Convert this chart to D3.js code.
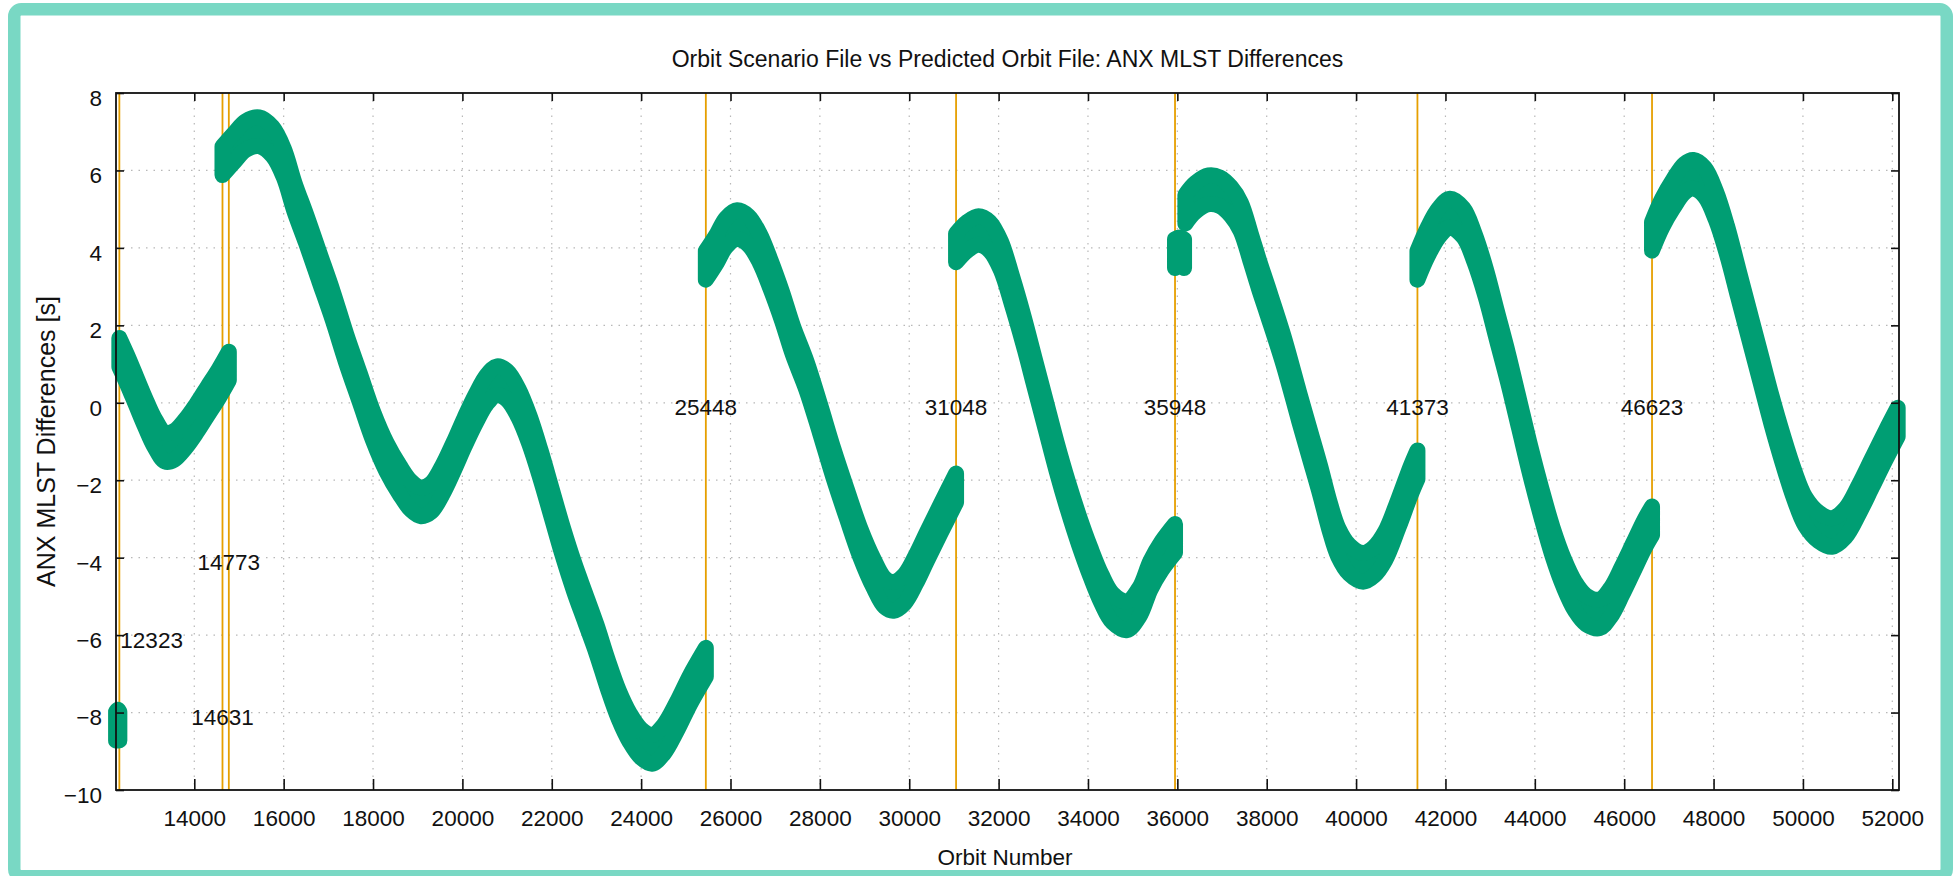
<!DOCTYPE html>
<html lang="en">
<head>
<meta charset="UTF-8">
<title>ANX MLST Differences</title>
<script src="https://cdn.jsdelivr.net/npm/d3@7"></script>
<style>
  body { margin: 0; background: #fff; }
  svg text { font-family: "Liberation Sans", Arial, Helvetica, sans-serif; fill: #111; }
</style>
</head>
<body>
<div id="chart"></div>
<script>

// orbits where a new orbit file starts (orange lines) and the height of their labels [s]
var maneuverOrbits = [12323, 14631, 14773, 25448, 31048, 35948, 41373, 46623]
var maneuverLabelY = [-6, -8, -4, 0, 0, 0, 0, 0]

var xTicks = [14000, 16000, 18000, 20000, 22000, 24000, 26000, 28000, 30000, 32000,
              34000, 36000, 38000, 40000, 42000, 44000, 46000, 48000, 50000, 52000]
var yTicks = [-10, -8, -6, -4, -2, 0, 2, 4, 6, 8]

// ANX MLST difference [s] vs orbit number, centre of the scatter band, one array per file
var seg1 = [[12250, -8.35], [12290, -8.3], [12323, -8.35]]
var seg2 = [[12323, 1.3], [12500, 0.85], [12700, 0.3], [12900, -0.25], [13100, -0.75], [13350, -1.15],
            [13550, -1.1], [13800, -0.8], [14050, -0.4], [14300, 0.05], [14550, 0.5], [14773, 0.95]]
var seg3 = [[14631, 6.25], [14900, 6.6], [15150, 6.9], [15450, 7.0], [15750, 6.75], [16000, 6.2],
            [16245, 5.3], [16500, 4.5], [16800, 3.5], [17100, 2.5], [17400, 1.4], [17700, 0.4],
            [18000, -0.6], [18300, -1.4], [18600, -2.0], [18850, -2.4], [19070, -2.56], [19300, -2.45],
            [19550, -2.0], [19800, -1.4], [20050, -0.75], [20300, -0.15], [20550, 0.35], [20775, 0.57],
            [21000, 0.45], [21250, 0.0], [21500, -0.7], [21750, -1.6], [22000, -2.6], [22250, -3.6],
            [22500, -4.5], [22750, -5.3], [23000, -6.1], [23250, -7.0], [23500, -7.8], [23750, -8.4],
            [24000, -8.8], [24240, -8.95], [24500, -8.7], [24800, -8.1], [25100, -7.4], [25448, -6.7]]
var seg4 = [[25448, 3.55], [25700, 4.0], [25900, 4.4], [26150, 4.6], [26400, 4.45], [26650, 4.0],
            [26900, 3.3], [27150, 2.5], [27400, 1.6], [27700, 0.7], [28000, -0.4], [28300, -1.55],
            [28600, -2.6], [28900, -3.6], [29200, -4.4], [29450, -4.9], [29650, -5.0], [29900, -4.8],
            [30150, -4.3], [30400, -3.7], [30700, -3.0], [31048, -2.2]]
var seg5 = [[31048, 4.0], [31300, 4.3], [31550, 4.45], [31800, 4.3], [32050, 3.8], [32300, 2.9],
            [32550, 1.9], [32800, 0.8], [33050, -0.3], [33300, -1.4], [33550, -2.4], [33800, -3.3],
            [34050, -4.1], [34300, -4.8], [34550, -5.3], [34870, -5.5], [35150, -5.15], [35400, -4.45],
            [35650, -3.95], [35948, -3.5]]
var seg6 = [[35948, 3.85], [36050, 3.9], [36150, 3.85]]
var seg7 = [[36180, 5.0], [36400, 5.3], [36700, 5.5], [36950, 5.45], [37200, 5.2], [37420, 4.8],
            [37643, 4.0], [37830, 3.3], [38016, 2.65], [38374, 1.36], [38725, -0.1], [38960, -1.05],
            [39195, -2.0], [39400, -2.9], [39600, -3.6], [39850, -4.05], [40160, -4.25], [40400, -4.1],
            [40650, -3.7], [40950, -2.85], [41225, -2.0], [41373, -1.6]]
var seg8 = [[41373, 3.55], [41600, 4.15], [41850, 4.65], [42100, 4.9], [42400, 4.65], [42650, 4.0],
            [42900, 3.1], [43150, 2.0], [43400, 0.9], [43650, -0.3], [43900, -1.5], [44150, -2.6],
            [44400, -3.6], [44650, -4.4], [44900, -5.0], [45150, -5.35], [45450, -5.45], [45700, -5.15],
            [45950, -4.6], [46200, -4.0], [46450, -3.4], [46623, -3.05]]
var seg9 = [[46623, 4.3], [46850, 4.9], [47100, 5.4], [47350, 5.8], [47550, 5.9], [47800, 5.7],
            [48050, 5.1], [48300, 4.2], [48550, 3.1], [48800, 2.0], [49050, 0.9], [49300, -0.2],
            [49550, -1.2], [49800, -2.1], [50050, -2.8], [50350, -3.2], [50650, -3.35], [50950, -3.1],
            [51250, -2.5], [51550, -1.8], [51850, -1.1], [52120, -0.5]]

// half height of the point scatter around the centre [s]
var bandHalf = 0.37

var segments = [seg1, seg2, seg3, seg4, seg5, seg6, seg7, seg8, seg9]

// page and plot box (don't call these top/left: window.top is taken)
var width = 1958, height = 876
var plotLeft = 116, plotRight = 1899, plotTop = 93, plotBottom = 790

var svg = d3.select("#chart")
  .append("svg")
    .attr("width", width)
    .attr("height", height)

// teal frame around the whole figure
svg.append("rect")
  .attr("x", 14.25).attr("y", 9.25)
  .attr("width", 1932.5).attr("height", 867)
  .attr("rx", 7)
  .attr("fill", "#fff")
  .attr("stroke", "#79d8c4")
  .attr("stroke-width", 12.5)

var x = d3.scaleLinear().domain([12248, 52150]).range([plotLeft, plotRight])
var y = d3.scaleLinear().domain([-10, 8]).range([plotBottom, plotTop])

// dotted grid
svg.append("g").selectAll("line")
  .data(xTicks)
  .enter().append("line")
    .attr("x1", d => x(d)).attr("x2", d => x(d))
    .attr("y1", plotTop).attr("y2", plotBottom)
    .attr("stroke", "#b8b8b8").attr("stroke-width", 1.2)
    .attr("stroke-dasharray", "1.5 6")
svg.append("g").selectAll("line")
  .data(yTicks.slice(1, -1))
  .enter().append("line")
    .attr("x1", plotLeft).attr("x2", plotRight)
    .attr("y1", d => y(d)).attr("y2", d => y(d))
    .attr("stroke", "#b8b8b8").attr("stroke-width", 1.2)
    .attr("stroke-dasharray", "1.5 6")

// orange maneuver lines
svg.append("g").selectAll("line")
  .data(maneuverOrbits)
  .enter().append("line")
    .attr("x1", d => x(d)).attr("x2", d => x(d))
    .attr("y1", plotTop).attr("y2", plotBottom)
    .attr("stroke", "#e69f00").attr("stroke-width", 1.8)

// the data: a band of points around each file's curve
// (fill gives the scatter height, the wide stroke the point size)
var band = d3.area()
  .x(d => x(d[0]))
  .y0(d => y(d[1] - bandHalf))
  .y1(d => y(d[1] + bandHalf))
  .curve(d3.curveCatmullRom)

svg.append("g").selectAll("path")
  .data(segments)
  .enter().append("path")
    .attr("d", band)
    .attr("fill", "#009e73")
    .attr("stroke", "#009e73")
    .attr("stroke-width", 16)
    .attr("stroke-linejoin", "round")

// maneuver labels
svg.append("g").selectAll("text")
  .data(maneuverOrbits)
  .enter().append("text")
    .attr("x", (d, i) => i == 0 ? x(d) + 1 : x(d))
    .attr("y", (d, i) => y(maneuverLabelY[i]) + 12.5)
    .attr("text-anchor", (d, i) => i == 0 ? "start" : "middle")
    .attr("font-size", 22.5)
    .text(d => d)

// axes: ticks point inwards, mirrored on top and right
function styleAxis(g) {
  g.attr("font-family", null).attr("font-size", 22.5)
  g.select(".domain").remove()
  g.selectAll(".tick line").attr("stroke", "#111").attr("stroke-width", 1.6)
  g.selectAll(".tick text").attr("fill", "#111")
}

svg.append("g")
  .attr("transform", "translate(0," + plotBottom + ")")
  .call(d3.axisBottom(x).tickValues(xTicks).tickSizeInner(-11).tickSizeOuter(0).tickPadding(20.5).tickFormat(d3.format("d")))
  .call(styleAxis)
svg.append("g")
  .attr("transform", "translate(0," + plotTop + ")")
  .call(d3.axisTop(x).tickValues(xTicks).tickSizeInner(-8).tickSizeOuter(0).tickFormat(""))
  .call(styleAxis)
svg.append("g")
  .attr("transform", "translate(" + plotLeft + ",0)")
  .call(d3.axisLeft(y).tickValues(yTicks).tickSizeInner(-8).tickSizeOuter(0).tickPadding(14))
  .call(styleAxis)
  .selectAll(".tick text").attr("dy", "0.55em")
svg.append("g")
  .attr("transform", "translate(" + plotRight + ",0)")
  .call(d3.axisRight(y).tickValues(yTicks).tickSizeInner(-8).tickSizeOuter(0).tickFormat(""))
  .call(styleAxis)

// plot border
svg.append("rect")
  .attr("x", plotLeft).attr("y", plotTop)
  .attr("width", plotRight - plotLeft).attr("height", plotBottom - plotTop)
  .attr("fill", "none")
  .attr("stroke", "#111")
  .attr("stroke-width", 1.8)

// titles
svg.append("text")
  .attr("x", (plotLeft + plotRight) / 2).attr("y", 67)
  .attr("text-anchor", "middle")
  .attr("font-size", 23)
  .text("Orbit Scenario File vs Predicted Orbit File: ANX MLST Differences")

svg.append("text")
  .attr("x", 1005).attr("y", 865)
  .attr("text-anchor", "middle")
  .attr("font-size", 22.5)
  .text("Orbit Number")

svg.append("text")
  .attr("transform", "translate(55," + (plotTop + plotBottom) / 2 + ") rotate(-90)")
  .attr("text-anchor", "middle")
  .attr("font-size", 25)
  .text("ANX MLST Differences [s]")

</script>
</body>
</html>
